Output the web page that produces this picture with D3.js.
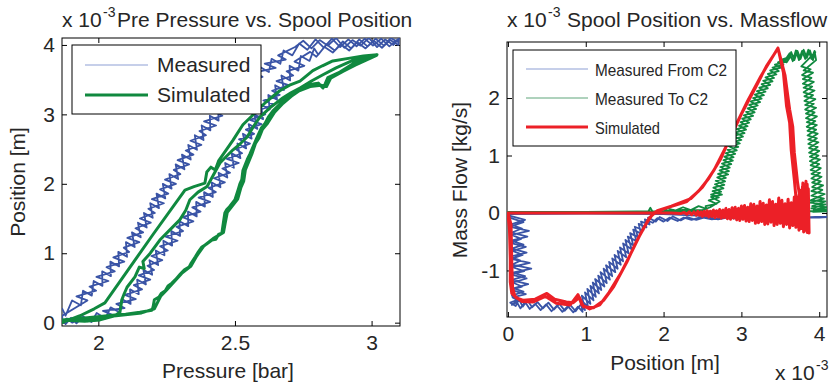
<!DOCTYPE html>
<html>
<head>
<meta charset="utf-8">
<script src="https://cdn.jsdelivr.net/npm/d3@7"></script>
<style>
  body { margin: 0; background: #fff; }
  svg { display: block; }
</style>
</head>
<body>
<svg id="chart" width="833" height="385"></svg>
<script>
// ---------------- Left panel: pre pressure [bar] vs spool position [x1e-3 m] ----------------
const leftXTicks = [2, 2.5, 3];
const leftYTicks = [0, 1, 2, 3, 4];

// measured, lower-pressure branch, first cycle (going up)
const measuredBranchA = [
  [1.868,0.20],[1.880,0.10],[1.904,0.32],[1.936,0.25],[1.944,0.46],[1.976,0.39],[1.983,0.60],[2.015,0.53],
  [2.014,0.74],[2.046,0.67],[2.044,0.88],[2.076,0.81],[2.073,1.02],[2.105,0.95],[2.101,1.16],[2.133,1.09],
  [2.123,1.30],[2.155,1.23],[2.145,1.44],[2.177,1.37],[2.167,1.58],[2.199,1.51],[2.190,1.72],[2.222,1.65],
  [2.213,1.86],[2.245,1.79],[2.236,2.00],[2.268,1.93],[2.260,2.14],[2.292,2.07],[2.283,2.28],[2.315,2.21],
  [2.306,2.42],[2.338,2.35],[2.329,2.56],[2.361,2.49],[2.353,2.70],[2.385,2.63],[2.378,2.84],[2.410,2.77],
  [2.408,2.98],[2.440,2.91],[2.438,3.12],[2.470,3.05],[2.471,3.26],[2.503,3.19],[2.505,3.40],[2.537,3.33],
  [2.548,3.54],[2.580,3.47],[2.592,3.68],[2.624,3.61],[2.634,3.80],[2.666,3.73],[2.678,3.92],[2.710,3.85],
  [2.735,4.02],[2.765,3.93],[2.795,4.08],[2.825,3.96],[2.855,4.09],[2.885,3.97],[2.915,4.08],[2.945,3.98],
  [2.975,4.09],[3.005,3.99],[3.035,4.09],[3.065,3.98],[3.095,4.08]
];
// measured, higher-pressure branch, first cycle (coming down)
const measuredBranchB = [
  [3.098,4.04],[3.070,4.10],[3.045,3.99],[3.015,4.09],[2.985,3.98],[2.955,4.08],[2.925,3.95],[2.895,4.05],
  [2.865,3.92],[2.835,4.01],[2.805,3.86],[2.790,3.95],[2.773,3.77],[2.741,3.84],[2.732,3.63],[2.700,3.70],
  [2.702,3.49],[2.670,3.56],[2.679,3.35],[2.647,3.42],[2.654,3.21],[2.622,3.28],[2.627,3.07],[2.595,3.14],
  [2.603,2.93],[2.571,3.00],[2.582,2.79],[2.550,2.86],[2.561,2.65],[2.529,2.72],[2.541,2.51],[2.509,2.58],
  [2.520,2.37],[2.488,2.44],[2.496,2.23],[2.464,2.30],[2.472,2.09],[2.440,2.16],[2.447,1.95],[2.415,2.02],
  [2.419,1.81],[2.387,1.88],[2.390,1.67],[2.358,1.74],[2.360,1.53],[2.328,1.60],[2.329,1.39],[2.297,1.46],
  [2.299,1.25],[2.267,1.32],[2.270,1.11],[2.238,1.18],[2.242,0.97],[2.210,1.04],[2.219,0.83],[2.187,0.90],
  [2.197,0.69],[2.165,0.76],[2.174,0.55],[2.142,0.62],[2.148,0.41],[2.116,0.48],[2.118,0.27],[2.086,0.34],
  [2.077,0.15],[2.045,0.22],[2.026,0.06],[1.994,0.14],[1.975,0.01],[1.945,0.09],[1.920,-0.01],[1.900,0.07],
  [1.880,-0.02],[1.868,0.05]
];
// measured, second cycle, going up
const measuredBranchA2 = [
  [1.868,0.10],[1.960,0.32],[1.920,0.38],[1.992,0.46],[1.968,0.52],[2.037,0.60],[1.993,0.66],[2.060,0.74],
  [2.030,0.80],[2.095,0.88],[2.055,0.94],[2.113,1.02],[2.093,1.08],[2.150,1.16],[2.106,1.22],[2.164,1.30],
  [2.136,1.36],[2.192,1.44],[2.152,1.50],[2.207,1.58],[2.183,1.64],[2.240,1.72],[2.196,1.78],[2.256,1.86],
  [2.226,1.92],[2.284,2.00],[2.244,2.06],[2.300,2.14],[2.276,2.20],[2.332,2.28],[2.290,2.34],[2.348,2.42],
  [2.320,2.48],[2.377,2.56],[2.337,2.62],[2.394,2.70],[2.370,2.76],[2.431,2.84],[2.387,2.90],[2.454,2.98],
  [2.424,3.04],[2.491,3.12],[2.451,3.18],[2.517,3.26],[2.491,3.32],[2.564,3.40],[2.522,3.46],[2.601,3.54],
  [2.571,3.60],[2.649,3.67],[2.609,3.73],[2.686,3.79],[2.658,3.85],[2.720,3.97],[2.750,4.06],[2.780,3.95],
  [2.810,4.07],[2.840,3.99],[2.870,4.10],[2.900,3.96],[2.930,4.07],[2.960,3.99],[2.990,4.10],[3.020,3.97],
  [3.050,4.08],[3.080,4.00],[3.100,4.09]
];
// measured, second cycle, coming down
const measuredBranchB2 = [
  [3.098,4.00],[3.068,4.07],[3.038,3.96],[3.008,4.06],[2.978,3.95],[2.948,4.04],[2.918,3.92],[2.888,4.01],
  [2.858,3.89],[2.828,3.97],[2.798,3.83],[2.775,3.90],[2.718,3.76],[2.754,3.70],[2.689,3.62],[2.713,3.56],
  [2.652,3.48],[2.696,3.42],[2.636,3.34],[2.664,3.28],[2.604,3.20],[2.644,3.14],[2.587,3.06],[2.611,3.00],
  [2.555,2.92],[2.597,2.86],[2.540,2.78],[2.570,2.72],[2.515,2.64],[2.555,2.58],[2.502,2.50],[2.526,2.44],
  [2.470,2.36],[2.514,2.30],[2.454,2.22],[2.482,2.16],[2.423,2.08],[2.463,2.02],[2.404,1.94],[2.430,1.88],
  [2.367,1.80],[2.409,1.74],[2.344,1.66],[2.374,1.60],[2.308,1.52],[2.348,1.46],[2.286,1.38],[2.310,1.32],
  [2.246,1.24],[2.290,1.18],[2.226,1.10],[2.254,1.04],[2.194,0.96],[2.234,0.90],[2.180,0.82],[2.204,0.76],
  [2.148,0.68],[2.190,0.62],[2.130,0.54],[2.160,0.48],[2.097,0.40],[2.137,0.34],[2.066,0.27],[2.096,0.21],
  [2.017,0.17],[2.053,0.11],[1.990,0.08],[1.960,0.02],[1.935,0.08],[1.905,0.00],[1.885,0.06],[1.868,0.01]
];
// simulated pressure / position loops
const simulatedPressurePos = [
  [1.867,0.00],[1.900,0.05],[1.933,0.10],[1.985,0.20],[2.024,0.285],[2.100,0.71],[2.200,1.27],[2.317,1.91],
  [2.350,1.96],[2.390,2.01],[2.397,2.17],[2.412,2.24],[2.428,2.20],[2.440,2.33],[2.465,2.47],[2.493,2.63],
  [2.529,2.85],[2.560,2.97],[2.584,3.07],[2.620,3.20],[2.664,3.34],[2.700,3.42],[2.738,3.48],[2.785,3.63],
  [2.820,3.70],[2.858,3.77],[2.921,3.81],[2.970,3.84],[3.020,3.86],
  [2.975,3.80],[2.932,3.73],[2.884,3.61],[2.840,3.53],[2.830,3.44],[2.822,3.38],[2.805,3.45],[2.792,3.44],
  [2.763,3.42],[2.730,3.36],[2.701,3.28],[2.670,3.17],[2.639,3.05],[2.622,2.96],[2.610,2.87],[2.596,2.80],
  [2.580,2.66],[2.568,2.55],[2.555,2.43],[2.545,2.35],[2.529,2.19],[2.525,2.06],[2.518,2.00],[2.512,1.92],
  [2.500,1.77],[2.490,1.72],[2.480,1.67],[2.470,1.63],[2.463,1.58],[2.458,1.45],[2.452,1.29],[2.440,1.27],
  [2.430,1.20],[2.416,1.19],[2.395,1.13],[2.379,1.09],[2.366,1.02],[2.355,0.95],[2.340,0.86],[2.332,0.80],
  [2.315,0.76],[2.300,0.70],[2.282,0.62],[2.269,0.57],[2.255,0.53],[2.245,0.46],[2.230,0.42],[2.222,0.37],
  [2.205,0.33],[2.200,0.22],[2.196,0.18],[2.152,0.15],[2.100,0.12],[2.061,0.11],[1.960,0.07],[1.867,0.04],
  [1.950,0.02],[2.006,0.04],[2.060,0.10],[2.079,0.15],[2.086,0.33],[2.095,0.42],[2.105,0.51],[2.134,0.66],
  [2.150,0.80],[2.168,0.78],[2.163,0.88],[2.190,1.00],[2.225,1.19],[2.260,1.33],[2.298,1.48],[2.320,1.62],
  [2.335,1.77],[2.365,1.88],[2.398,1.96],[2.420,2.12],[2.445,2.30],[2.470,2.40],[2.493,2.49],[2.520,2.58],
  [2.544,2.67],[2.570,2.84],[2.591,2.96],[2.630,3.10],[2.676,3.24],[2.705,3.31],[2.738,3.38],[2.780,3.48],
  [2.822,3.57],[2.870,3.67],[2.921,3.76],[2.975,3.83],[3.018,3.85],
  [2.980,3.78],[2.940,3.71],[2.895,3.62],[2.850,3.52],[2.835,3.40],[2.815,3.42],[2.775,3.40],[2.735,3.34],
  [2.706,3.26],[2.676,3.16],[2.645,3.03],[2.617,2.86],[2.600,2.78],[2.588,2.66],[2.575,2.58],[2.562,2.43],
  [2.538,2.20],[2.532,2.04],[2.522,1.95],[2.510,1.78],[2.472,1.59],[2.464,1.43],[2.458,1.30],[2.420,1.21],
  [2.385,1.10],[2.360,0.96],[2.338,0.81],[2.305,0.71],[2.275,0.58],[2.250,0.47],[2.228,0.38],[2.205,0.20],
  [2.158,0.14],[2.065,0.10],[1.867,0.03]
];

// ---------------- Right panel: spool position [x1e-3 m] vs mass flow [x1e-3 kg/s] ----------------
const rightXTicks = [0, 1, 2, 3, 4];
const rightYTicks = [-1, 0, 1, 2];

const measuredFromC2 = [
  [0.00,-0.02],[0.03,-0.05],[0.22,-0.12],[0.04,-0.20],[0.18,-0.27],[0.05,-0.34],[0.25,-0.41],[0.04,-0.48],
  [0.20,-0.55],[0.05,-0.62],[0.24,-0.69],[0.03,-0.76],[0.16,-0.83],[0.05,-0.90],[0.30,-0.97],[0.06,-1.04],
  [0.22,-1.10],[0.04,-1.17],[0.26,-1.24],[0.07,-1.31],[0.20,-1.37],[0.05,-1.44],[0.15,-1.50],[0.03,-1.56],
  [0.10,-1.62],[0.14,-1.50],[0.19,-1.63],[0.25,-1.52],[0.31,-1.64],[0.38,-1.55],[0.45,-1.66],[0.52,-1.56],
  [0.59,-1.68],[0.66,-1.58],[0.73,-1.70],[0.80,-1.60],[0.87,-1.71],[0.93,-1.60],[0.99,-1.69],
  [0.95,-1.44],[1.06,-1.58],[1.02,-1.32],[1.13,-1.46],[1.09,-1.21],[1.20,-1.34],[1.16,-1.09],[1.27,-1.22],
  [1.23,-0.97],[1.34,-1.10],[1.30,-0.85],[1.41,-0.97],[1.37,-0.73],[1.48,-0.84],[1.44,-0.60],[1.55,-0.70],
  [1.51,-0.47],[1.61,-0.56],[1.57,-0.35],[1.67,-0.42],[1.63,-0.24],[1.74,-0.30],[1.71,-0.15],[1.82,-0.20],
  [1.80,-0.08],[1.90,-0.15],[1.95,-0.07],[2.05,-0.14],[2.12,-0.06],[2.22,-0.13],[2.30,-0.07],[2.42,-0.12],
  [2.55,-0.07],[2.70,-0.11],[2.85,-0.07],[3.00,-0.10],[3.20,-0.07],[3.40,-0.09],[3.60,-0.07],[3.80,-0.08],
  [4.00,-0.07],[4.12,-0.07],
  [4.00,-0.08],[3.00,-0.08],[2.00,-0.02],[1.00,-0.01],[0.02,-0.02],
  [0.02,-0.08],[0.20,-0.16],[0.03,-0.24],[0.27,-0.31],[0.05,-0.38],[0.17,-0.45],[0.03,-0.52],[0.23,-0.59],
  [0.06,-0.66],[0.19,-0.73],[0.04,-0.80],[0.28,-0.87],[0.05,-0.94],[0.21,-1.01],[0.03,-1.07],[0.24,-1.14],
  [0.06,-1.21],[0.18,-1.28],[0.04,-1.34],[0.23,-1.41],[0.06,-1.47],[0.14,-1.53],[0.05,-1.60],
  [0.11,-1.54],[0.16,-1.66],[0.22,-1.55],[0.28,-1.67],[0.35,-1.58],[0.42,-1.69],[0.49,-1.59],[0.56,-1.71],
  [0.63,-1.61],[0.70,-1.72],[0.77,-1.62],[0.84,-1.73],[0.90,-1.63],[0.96,-1.72],
  [0.93,-1.50],[1.03,-1.64],[0.99,-1.38],[1.10,-1.52],[1.06,-1.27],[1.17,-1.40],[1.12,-1.15],[1.24,-1.28],
  [1.19,-1.03],[1.31,-1.16],[1.26,-0.91],[1.38,-1.03],[1.34,-0.79],[1.45,-0.90],[1.41,-0.66],[1.52,-0.77],
  [1.48,-0.53],[1.59,-0.63],[1.54,-0.41],[1.65,-0.49],[1.61,-0.29],[1.71,-0.36],[1.68,-0.19],[1.78,-0.25],
  [1.76,-0.11],[1.86,-0.17],[1.92,-0.09],[2.00,-0.15],[2.08,-0.08],[2.18,-0.14],[2.26,-0.08],[2.36,-0.12],
  [2.48,-0.07],[2.62,-0.11],[2.78,-0.08],[2.95,-0.10],[3.15,-0.07],[3.35,-0.09],[3.55,-0.07],[3.75,-0.08],
  [3.95,-0.07],[4.12,-0.07]
];

const measuredToC2 = [
  [0.00,0.02],[0.50,0.02],[1.00,0.02],[1.50,0.02],[1.80,0.02],[1.83,0.09],[1.86,0.02],[2.00,0.03],
  [2.05,0.08],[2.15,0.04],[2.25,0.10],[2.35,0.05],[2.45,0.12],[2.55,0.07],
  [2.54,0.12],[2.68,0.16],[2.58,0.22],[2.71,0.27],[2.61,0.32],[2.74,0.37],[2.64,0.44],[2.78,0.49],
  [2.67,0.56],[2.80,0.61],[2.70,0.68],[2.84,0.73],[2.73,0.80],[2.87,0.85],[2.77,0.92],[2.90,0.97],
  [2.80,1.04],[2.94,1.09],[2.84,1.16],[2.98,1.21],[2.88,1.28],[3.02,1.33],[2.92,1.40],[3.06,1.45],
  [2.97,1.52],[3.10,1.57],[3.01,1.64],[3.15,1.69],[3.06,1.76],[3.19,1.81],[3.10,1.88],[3.24,1.93],
  [3.15,2.00],[3.29,2.05],[3.20,2.12],[3.34,2.17],[3.26,2.24],[3.40,2.29],[3.31,2.36],[3.45,2.41],
  [3.37,2.48],[3.51,2.53],[3.43,2.58],[3.57,2.63],[3.50,2.66],[3.63,2.72],
  [3.58,2.62],[3.64,2.80],[3.68,2.66],[3.72,2.82],[3.76,2.68],[3.80,2.84],[3.84,2.70],[3.88,2.83],
  [3.92,2.66],[3.95,2.80],
  [3.77,2.55],[3.89,2.50],[3.78,2.40],[3.90,2.35],[3.79,2.25],[3.91,2.20],[3.80,2.10],[3.92,2.05],
  [3.81,1.95],[3.93,1.90],[3.82,1.80],[3.94,1.75],[3.83,1.65],[3.95,1.60],[3.84,1.50],[3.96,1.45],
  [3.85,1.35],[3.97,1.30],[3.86,1.20],[3.98,1.15],[3.87,1.05],[3.99,1.00],[3.88,0.90],[4.00,0.85],
  [3.89,0.75],[4.01,0.70],[3.90,0.60],[4.02,0.55],[3.91,0.45],[4.04,0.40],[3.90,0.30],[4.06,0.25],
  [3.88,0.18],[4.08,0.15],[3.90,0.08],[4.09,0.05],[3.92,0.02],[4.10,0.03],
  [3.00,0.03],[2.00,0.02],[1.00,0.02],[0.02,0.02],[1.00,0.02],[2.00,0.03],[2.30,0.06],[2.50,0.05],
  [2.60,0.10],[2.72,0.20],[2.61,0.28],[2.75,0.32],[2.63,0.38],[2.77,0.43],[2.66,0.50],[2.79,0.55],
  [2.69,0.62],[2.83,0.67],[2.72,0.74],[2.85,0.79],[2.75,0.86],[2.89,0.91],[2.78,0.98],[2.92,1.03],
  [2.82,1.10],[2.96,1.15],[2.86,1.22],[3.00,1.27],[2.90,1.34],[3.04,1.39],[2.94,1.46],[3.08,1.51],
  [2.99,1.58],[3.12,1.63],[3.03,1.70],[3.17,1.75],[3.08,1.82],[3.21,1.87],[3.12,1.94],[3.26,1.99],
  [3.17,2.06],[3.31,2.11],[3.23,2.18],[3.37,2.23],[3.28,2.30],[3.42,2.35],[3.34,2.42],[3.48,2.47],
  [3.40,2.53],[3.54,2.58],[3.47,2.62],[3.60,2.70],[3.55,2.64],[3.62,2.78],[3.66,2.64],[3.70,2.83],
  [3.74,2.66],[3.78,2.82],[3.82,2.68],[3.86,2.84],[3.90,2.68],[3.94,2.82],[3.96,2.66],
  [3.80,2.48],[3.92,2.44],[3.79,2.33],[3.93,2.28],[3.80,2.18],[3.94,2.13],[3.81,2.03],[3.95,1.98],
  [3.82,1.88],[3.96,1.83],[3.83,1.73],[3.97,1.68],[3.84,1.58],[3.97,1.53],[3.85,1.43],[3.98,1.38],
  [3.86,1.28],[3.99,1.23],[3.87,1.13],[4.00,1.08],[3.88,0.98],[4.01,0.93],[3.89,0.83],[4.02,0.78],
  [3.90,0.68],[4.03,0.63],[3.91,0.53],[4.05,0.48],[3.90,0.38],[4.07,0.33],[3.89,0.22],[4.08,0.20],
  [3.91,0.12],[4.10,0.10],[3.93,0.05],[4.10,0.06]
];

const simulatedFlow = [
  [0.00,0.00],[0.02,-0.30],[0.03,-0.80],[0.03,-1.20],[0.05,-1.40],[0.11,-1.48],[0.20,-1.52],[0.35,-1.50],
  [0.50,-1.40],[0.60,-1.50],[0.75,-1.55],[0.84,-1.56],[0.92,-1.47],[0.97,-1.63],[1.10,-1.65],[1.23,-1.52],
  [1.36,-1.28],[1.53,-0.85],[1.65,-0.50],[1.78,-0.18],[1.87,0.00],[2.04,0.09],[2.30,0.20],[2.45,0.38],
  [2.58,0.60],[2.73,0.93],[2.90,1.45],[3.08,1.95],[3.25,2.38],[3.37,2.65],[3.47,2.87],[3.54,2.44],
  [3.58,1.86],[3.62,1.57],[3.64,1.10],[3.68,0.58],[3.70,0.29],[3.72,0.10],
  [3.75,0.40],[3.77,-0.24],[3.79,0.52],[3.81,-0.30],[3.83,0.55],[3.845,-0.34],[3.86,0.42],[3.87,-0.35],
  [3.845,0.50],[3.83,-0.30],[3.815,0.30],[3.80,-0.33],[3.785,0.46],[3.77,-0.27],[3.755,0.26],[3.74,-0.30],
  [3.72,0.22],[3.70,-0.25],[3.68,0.28],[3.66,-0.22],[3.64,0.18],[3.62,-0.26],[3.60,0.24],[3.58,-0.20],
  [3.56,0.16],[3.54,-0.24],[3.52,0.22],[3.50,-0.18],[3.48,0.26],[3.46,-0.20],[3.44,0.15],[3.42,-0.22],
  [3.40,0.20],[3.38,-0.16],[3.36,0.23],[3.34,-0.19],[3.32,0.14],[3.30,-0.20],[3.28,0.17],[3.26,-0.15],
  [3.24,0.20],[3.22,-0.17],[3.20,0.12],[3.18,-0.18],[3.16,0.15],[3.14,-0.13],[3.12,0.16],[3.10,-0.15],
  [3.08,0.10],[3.06,-0.14],[3.04,0.13],[3.02,-0.11],[3.00,0.12],[2.98,-0.13],[2.96,0.08],[2.94,-0.12],
  [2.92,0.10],[2.90,-0.09],[2.88,0.09],[2.86,-0.11],[2.84,0.06],[2.82,-0.10],[2.80,0.08],[2.78,-0.08],
  [2.76,0.05],[2.74,-0.09],[2.72,0.06],[2.70,-0.07],[2.68,0.04],[2.66,-0.08],[2.64,0.05],[2.62,-0.06],
  [2.60,0.03],[2.58,-0.07],[2.56,0.04],[2.54,-0.05],[2.52,0.03],[2.50,-0.06],[2.48,0.02],[2.46,-0.04],
  [2.44,0.03],[2.42,-0.04],[2.39,0.02],[2.36,-0.03],[2.33,0.02],[2.30,-0.02],[2.26,0.01],[2.22,-0.01],
  [2.10,0.00],[1.00,0.00],[0.00,0.00],
  [0.04,-0.20],[0.05,-0.90],[0.06,-1.30],[0.09,-1.45],[0.18,-1.54],[0.32,-1.55],[0.48,-1.45],[0.62,-1.57],
  [0.80,-1.60],[0.90,-1.42],[0.95,-1.60],[1.05,-1.67],[1.18,-1.60],[1.30,-1.38],[1.45,-1.05],[1.60,-0.65],
  [1.72,-0.32],[1.82,-0.08],[1.92,0.04],[2.10,0.12],[2.35,0.25],[2.50,0.45],[2.65,0.75],[2.82,1.20],
  [3.00,1.72],[3.18,2.18],[3.32,2.55],[3.44,2.80],[3.47,2.87],[3.56,2.40],[3.62,1.80],[3.66,1.50],
  [3.68,1.05],[3.72,0.55],[3.75,0.28],[3.77,0.05]
];

// ---------------- drawing ----------------
const FONT = '"Liberation Sans", Arial, Helvetica, sans-serif';
const TEXT = "#262626";
const BLUE = "#3a54a6", GREEN = "#10893f", RED = "#ec2027";
const BLUE_KEY = "#8d9fd4", GREEN_KEY = "#5fa57a";

const svg = d3.select("#chart");
const defs = svg.append("defs");

function addText(x, y, str, size, opts = {}) {
  const t = svg.append("text")
    .attr("x", x).attr("y", y)
    .attr("font-family", FONT).attr("font-size", size)
    .attr("fill", TEXT)
    .attr("text-anchor", opts.anchor || "start")
    .text(str);
  if (opts.rotate) t.attr("transform", `rotate(-90,${x},${y})`);
  if (opts.length) t.attr("textLength", opts.length).attr("lengthAdjust", "spacingAndGlyphs");
  return t;
}

function exponent(x, y) {
  addText(x, y, "x 10", 21);
  addText(x + 41, y - 10, "-3", 14);
}

function drawFrame(id, x, y, xTicks, yTicks) {
  const [x0, x1] = x.range();
  const [y1, y0] = y.range();
  const fmt = d => String(d);
  const style = g => {
    g.attr("font-family", FONT).attr("font-size", 21);
    g.select(".domain").remove();
    g.selectAll("line").attr("stroke", "#000");
    g.selectAll("text").attr("fill", TEXT);
  };
  svg.append("g").attr("transform", `translate(0,${y1})`)
    .call(d3.axisBottom(x).tickValues(xTicks).tickSizeInner(-5).tickSizeOuter(0).tickPadding(9).tickFormat(fmt))
    .call(style);
  svg.append("g").attr("transform", `translate(0,${y0})`)
    .call(d3.axisTop(x).tickValues(xTicks).tickSizeInner(-5).tickSizeOuter(0).tickFormat(""))
    .call(style);
  svg.append("g").attr("transform", `translate(${x0},0)`)
    .call(d3.axisLeft(y).tickValues(yTicks).tickSizeInner(-5).tickSizeOuter(0).tickPadding(7).tickFormat(fmt))
    .call(style);
  svg.append("g").attr("transform", `translate(${x1},0)`)
    .call(d3.axisRight(y).tickValues(yTicks).tickSizeInner(-5).tickSizeOuter(0).tickFormat(""))
    .call(style);
  svg.append("rect").attr("x", x0).attr("y", y0)
    .attr("width", x1 - x0).attr("height", y1 - y0)
    .attr("fill", "none").attr("stroke", "#000").attr("stroke-width", 1);
  defs.append("clipPath").attr("id", id)
    .append("rect").attr("x", x0).attr("y", y0).attr("width", x1 - x0).attr("height", y1 - y0);
}

function drawSeries(id, x, y, data, color, width) {
  const line = d3.line().x(d => x(d[0])).y(d => y(d[1]));
  svg.append("path").attr("clip-path", `url(#${id})`)
    .attr("d", line(data))
    .attr("fill", "none").attr("stroke", color).attr("stroke-width", width)
    .attr("stroke-linejoin", "round").attr("stroke-linecap", "round");
}

function legend(x, y, w, h, rows, lineX0, lineX1, textX, size, lengths) {
  svg.append("rect").attr("x", x).attr("y", y).attr("width", w).attr("height", h)
    .attr("fill", "#fff").attr("stroke", "#000").attr("stroke-width", 1);
  rows.forEach((r, i) => {
    svg.append("line").attr("x1", lineX0).attr("x2", lineX1)
      .attr("y1", r.y).attr("y2", r.y)
      .attr("stroke", r.color).attr("stroke-width", r.width);
    addText(textX, r.base, r.label, size, lengths ? { length: lengths[i] } : {});
  });
}

// ---- left panel
const xL = d3.scaleLinear().domain([1.867, 3.104]).range([62, 400]);
const yL = d3.scaleLinear().domain([-0.048, 4.10]).range([326, 38]);
drawFrame("clipL", xL, yL, leftXTicks, leftYTicks);
drawSeries("clipL", xL, yL,
  measuredBranchA.concat(measuredBranchB, measuredBranchA2, measuredBranchB2), BLUE, 1.8);
drawSeries("clipL", xL, yL, simulatedPressurePos, GREEN, 3);
legend(72, 45, 189, 69, [
  { label: "Measured", color: BLUE_KEY, width: 1, y: 65, base: 72 },
  { label: "Simulated", color: GREEN, width: 3, y: 95, base: 102 }
], 85, 148, 157, 21);
exponent(62, 27);
addText(117, 27, "Pre Pressure vs. Spool Position", 21);
addText(228, 378, "Pressure [bar]", 21, { anchor: "middle" });
addText(25, 182, "Position [m]", 21, { anchor: "middle", rotate: true });

// ---- right panel
const xR = d3.scaleLinear().domain([-0.012, 4.10]).range([507, 827]);
const yR = d3.scaleLinear().domain([-1.81, 2.975]).range([317, 42]);
drawFrame("clipR", xR, yR, rightXTicks, rightYTicks);
drawSeries("clipR", xR, yR, measuredFromC2, BLUE, 1.8);
drawSeries("clipR", xR, yR, measuredToC2, GREEN, 1.8);
drawSeries("clipR", xR, yR, simulatedFlow, RED, 3);
legend(513, 50, 223, 96, [
  { label: "Measured From C2", color: BLUE_KEY, width: 1, y: 69, base: 76 },
  { label: "Measured To C2", color: GREEN_KEY, width: 1, y: 98, base: 105 },
  { label: "Simulated", color: RED, width: 3, y: 127, base: 134 }
], 526, 588, 595, 17, [132, 113, 65]);
exponent(507, 27);
addText(567, 27, "Spool Position vs. Massflow", 21);
addText(665, 370, "Position [m]", 21, { anchor: "middle" });
addText(467, 180, "Mass Flow [kg/s]", 21, { anchor: "middle", rotate: true });
exponent(775, 380);
</script>
</body>
</html>
